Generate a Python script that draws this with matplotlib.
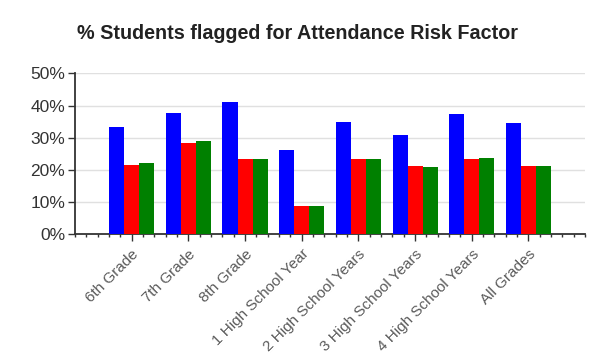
import matplotlib.pyplot as plt
import numpy as np
from matplotlib.ticker import MultipleLocator, PercentFormatter

# Data
grades = ['6th Grade', '7th Grade', '8th Grade', '1 High School Year',
          '2 High School Years', '3 High School Years', '4 High School Years',
          'All Grades']
blue_vals = [33.4, 37.8, 41.1, 26.2, 34.9, 30.9, 37.3, 34.5]
red_vals = [21.7, 28.4, 23.3, 8.8, 23.3, 21.3, 23.3, 21.3]
green_vals = [22.2, 29.1, 23.3, 8.8, 23.3, 20.8, 23.8, 21.3]

plt.rcParams['font.family'] = ['Liberation Sans', 'DejaVu Sans']

x = np.arange(len(grades))
w = 0.265

fig = plt.figure(figsize=(6.05, 3.6), dpi=100)
ax = fig.add_axes([0.124, 0.349, 0.843, 0.447])

ax.bar(x - w, blue_vals, w, color='#0000ff', zorder=3)
ax.bar(x, red_vals, w, color='#ff0000', zorder=3)
ax.bar(x + w, green_vals, w, color='#008000', zorder=3)

ax.set_xlim(-1, len(grades))
ax.set_ylim(0, 50)
ax.yaxis.set_major_locator(MultipleLocator(10))
ax.yaxis.set_major_formatter(PercentFormatter(decimals=0))
ax.grid(axis='y', color='#e0e0e0', linewidth=1, zorder=0)

ax.set_xticks(x)
ax.set_xticklabels(grades, rotation=45, ha='right', rotation_mode='anchor',
                   fontsize=11, color='#5a5a5a')
ax.xaxis.set_minor_locator(MultipleLocator(0.2))
ax.tick_params(axis='x', which='major', length=5, width=1, color='#333333', pad=4)
ax.tick_params(axis='x', which='minor', length=2.5, width=1, color='#333333')
ax.tick_params(axis='y', length=5, width=1, color='#333333', labelsize=12.5,
               labelcolor='#333333', pad=2)

for s in ['top', 'right']:
    ax.spines[s].set_visible(False)
for s in ['left', 'bottom']:
    ax.spines[s].set_color('#333333')
    ax.spines[s].set_linewidth(1.3)

fig.text(0.492, 0.908, '% Students flagged for Attendance Risk Factor',
         ha='center', va='center', fontsize=14.2, fontweight='bold', color='#222222')

fig.savefig('out.png', dpi=100)
